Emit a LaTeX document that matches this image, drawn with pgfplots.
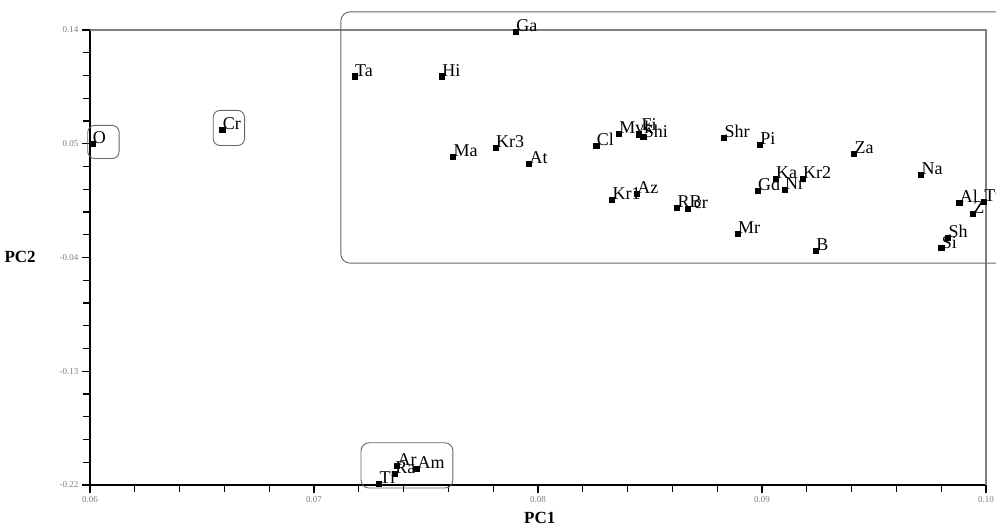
\documentclass[border=0pt]{standalone}
\usepackage{fontspec}
\setmainfont{Liberation Serif}
\usepackage{pgfplots}
\usepackage{pgfplotstable}
\pgfplotsset{compat=1.18}
\pgfplotstableread{
x y label dx dy
0.0601 0.0500 O 0 0
0.0659 0.0613 Cr 0 0
0.0790 0.1384 Ga 0 1
0.0718 0.1034 Ta 0 0
0.0757 0.1034 Hi 0 0
0.0762 0.0399 Ma 0 0
0.0781 0.0470 Kr3 0 0
0.0796 0.0343 At 0 0
0.0826 0.0486 Cl 0 0
0.0836 0.0581 Mvk 0 0
0.0845 0.0575 Fi 2 4
0.0847 0.0555 Shi 0 -1
0.0883 0.0550 Shr 0 0
0.0899 0.0494 Pi 0 0
0.0941 0.0423 Za 0 0
0.0971 0.0256 Na 0 0
0.0898 0.0129 Gd 0 0
0.0910 0.0137 Nr 0 0
0.0906 0.0224 Ka 0 0
0.0918 0.0224 Kr2 0 0
0.0833 0.0057 Kr1 0 0
0.0844 0.0105 Az 0 0
0.0862 -0.0007 RB 0 0
0.0867 -0.0015 cr 5 0
0.0889 -0.0213 Mr 0 0
0.0924 -0.0348 B 0 0
0.0988 0.0033 Al 0 0
0.0999 0.0040 Tu 0 0
0.0994 -0.0054 Z 0 0
0.0983 -0.0245 Sh 0 0
0.0980 -0.0325 Si 0 0
0.0729 -0.2190 Ti 0 0
0.0736 -0.2111 Ra 0 0
0.0737 -0.2049 Ar 0 0
0.0746 -0.2073 Am 0 0
}\pcadata
\begin{document}
\begin{tikzpicture}
\begin{axis}[
  name=ax,
  scale only axis, width=896pt, height=455pt,
  xmin=0.06, xmax=0.10, ymin=-0.22, ymax=0.14,
  xtick={0.06,0.07,0.08,0.09,0.10},
  ytick={-0.22,-0.13,-0.04,0.05,0.14},
  xticklabels={0.06,0.07,0.08,0.09,0.10},
  yticklabels={-0.22,-0.13,-0.04,0.05,0.14},
  minor x tick num=4, minor y tick num=4,
  tick align=outside, tick pos=left,
  major tick length=8pt, minor tick length=7pt,
  every tick/.style={black, line width=1.3pt},
  tick label style={font=\fontsize{9}{10}\selectfont, text=gray},
  axis line style={draw=none},
  clip=false,
  xlabel={\textbf{PC1}}, ylabel={\textbf{PC2}},
  label style={font=\fontsize{17}{18}\selectfont},
  x label style={at={(axis description cs:0.502,-0.0725)}, anchor=center},
  y label style={at={(axis description cs:-0.078,0.501)}, rotate=-90, anchor=center},
]
\draw[black, line width=1.6pt] (rel axis cs:0,1) -- (rel axis cs:0,0) -- (rel axis cs:1,0);
\draw[gray, line width=1.4pt] (rel axis cs:0,1) -- (rel axis cs:1,1) -- (rel axis cs:1,0);
\draw[gray!80!black, line width=0.9pt, rounded corners=9pt]
  (axis cs:0.0712,0.1543) rectangle (axis cs:0.1012,-0.0444);
\draw[gray!80!black, line width=0.9pt, rounded corners=7pt]
  (axis cs:0.0599,0.0645) rectangle (axis cs:0.0613,0.0383);
\draw[gray!80!black, line width=0.9pt, rounded corners=7pt]
  (axis cs:0.0655,0.0764) rectangle (axis cs:0.0669,0.0486);
\draw[gray!80!black, line width=0.9pt, rounded corners=8pt]
  (axis cs:0.0721,-0.1866) rectangle (axis cs:0.0762,-0.2224);
\addplot[only marks, mark=square*, mark size=2.6pt, black,
  visualization depends on={\thisrow{dx} \as \dx},
  visualization depends on={\thisrow{dy} \as \dy},
  nodes near coords, point meta=explicit symbolic,
  every node near coord/.append style={anchor=base west, inner sep=0.5pt,
    xshift=\dx pt, yshift=\dy pt,
    font=\fontsize{18}{18}\selectfont, text=black}]
  table[x=x, y=y, meta=label] {\pcadata};
\coordinate (bl) at (rel axis cs:0,0);
\coordinate (tr) at (rel axis cs:1,1);
\end{axis}
\pgfresetboundingbox
\path[use as bounding box] ([xshift=-90pt,yshift=-45pt]bl) rectangle ([xshift=10pt,yshift=30pt]tr);
\end{tikzpicture}
\end{document}
